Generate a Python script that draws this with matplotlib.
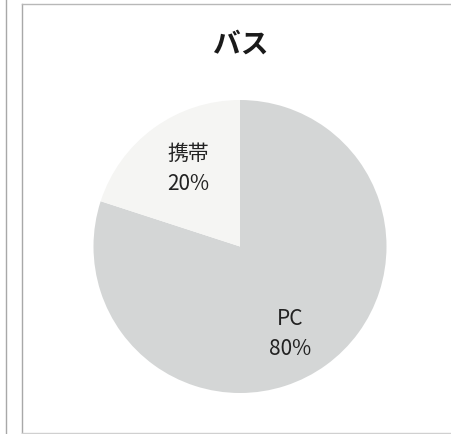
import matplotlib
matplotlib.use("Agg")
import matplotlib.pyplot as plt
from matplotlib.lines import Line2D

plt.rcParams['font.family'] = ['Noto Sans CJK JP', 'DejaVu Sans']

title = "バス"
categories = ["PC", "携帯"]
values = [80, 20]
colors = ["#d4d6d6", "#f5f5f3"]

W, H = 451, 435
fig = plt.figure(figsize=(W / 100, H / 100), dpi=100)
fig.patch.set_facecolor("white")

def fx(x): return x / W
def fy(y): return 1 - y / H

# frame decorations
fig.add_artist(Line2D([fx(6), fx(6)], [0, 1], color="#a8a8a8", lw=1.0))
fig.add_artist(Line2D([fx(22), fx(22)], [fy(434), fy(5)], color="#a8a8a8", lw=1.0))
fig.add_artist(Line2D([fx(22), 1], [fy(5), fy(5)], color="#b8b8b8", lw=1.0))
fig.add_artist(Line2D([fx(22), 1], [fy(433.5), fy(433.5)], color="#d0d0d0", lw=1.0))

# pie axes: center (240, 247.5), radius 146.5 px
cx, cy, r = 240, 247.5, 146.5
ax = fig.add_axes([fx(cx - r), fy(cy + r), 2 * r / W, 2 * r / H])
wedges, texts = ax.pie(values, colors=colors, startangle=90, counterclock=False,
                       radius=1.0, wedgeprops=dict(linewidth=0))
ax.set_xlim(-1, 1)
ax.set_ylim(-1, 1)
ax.set_aspect("auto")
ax.axis("off")

label_pos = [(0.34, -0.59), (-0.355, 0.535)]
for cat, v, (lx, ly) in zip(categories, values, label_pos):
    ax.text(lx, ly, f"{cat}\n{v}%", ha="center", va="center",
            fontsize=15, color="#222222", linespacing=1.5)

fig.text(fx(241), fy(45), title, ha="center", va="center",
         fontsize=20, fontweight="bold", color="#1a1a1a")

fig.savefig("out.png", dpi=100, facecolor="white")
